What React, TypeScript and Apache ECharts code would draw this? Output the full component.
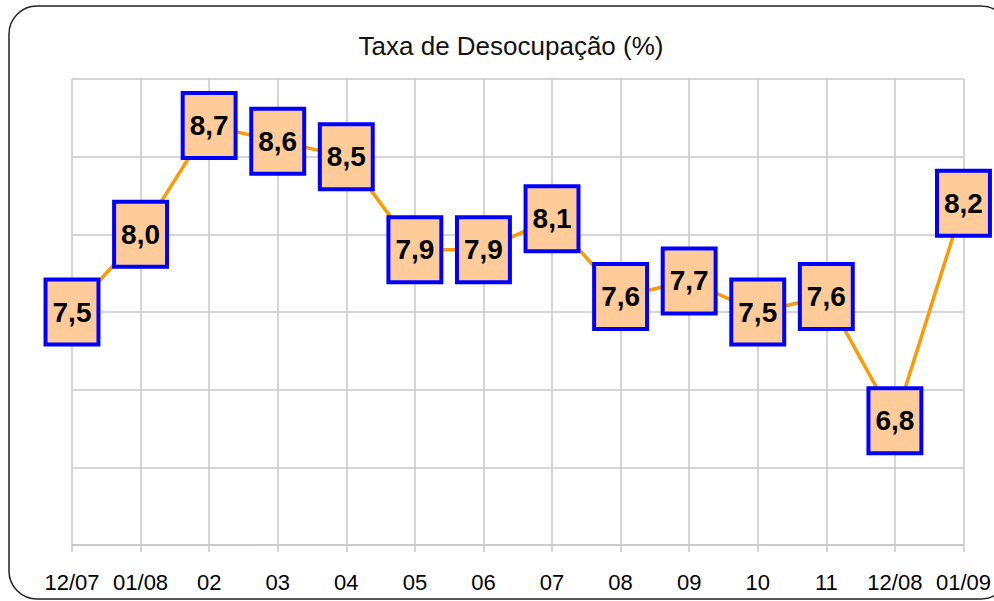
import React, { useEffect, useRef } from "react";
import * as echarts from "echarts";

const categories = ["12/07", "01/08", "02", "03", "04", "05", "06", "07", "08", "09", "10", "11", "12/08", "01/09"];
const values = [7.5, 8.0, 8.7, 8.6, 8.5, 7.9, 7.9, 8.1, 7.6, 7.7, 7.5, 7.6, 6.8, 8.2];
const yMin = 6;
const yMax = 9;
const yInterval = 0.5;
const titleText = "Taxa de Desocupação (%)";

export default function App() {
  const ref = useRef<HTMLDivElement>(null);
  useEffect(() => {
    document.body.style.margin = "0";
    const chart = echarts.init(ref.current!, undefined, { renderer: "svg" });
    chart.setOption({
      animation: false,
      backgroundColor: "#ffffff",
      title: {
        text: titleText,
        left: 506,
        top: 28,
        textAlign: "center",
        textStyle: { fontFamily: "'Liberation Sans', Arial, sans-serif", fontSize: 26, fontWeight: "normal", color: "#111" },
      },
      graphic: [
        {
          type: "rect",
          shape: { x: 9, y: 6, width: 1000, height: 593, r: 28 },
          style: { fill: "none", stroke: "#222", lineWidth: 1.5 },
          z: 100,
        },
      ],
      grid: { left: 72, right: 26, top: 79, bottom: 56, containLabel: false },
      xAxis: {
        type: "category",
        data: categories,
        boundaryGap: false,
        axisLine: { show: true, lineStyle: { color: "#c8c8c8", width: 1.5 } },
        axisTick: { show: true, length: 7, lineStyle: { color: "#c8c8c8", width: 1.5 } },
        axisLabel: {
          margin: 26,
          interval: 0,
          color: "#000",
          fontSize: 22,
          fontFamily: "'Liberation Sans', Arial, sans-serif",
        },
        splitLine: { show: true, lineStyle: { color: "#c8c8c8", width: 1.5 } },
      },
      yAxis: {
        type: "value",
        min: yMin,
        max: yMax,
        interval: yInterval,
        axisLine: { show: false },
        axisTick: { show: false },
        axisLabel: { show: false },
        splitLine: { show: true, lineStyle: { color: "#c8c8c8", width: 1.5 } },
      },
      series: [
        {
          type: "line",
          data: values,
          symbol: "circle",
          symbolSize: 1,
          itemStyle: { color: "#FF9900" },
          lineStyle: { color: "#FF9900", width: 3.5 },
          label: {
            show: true,
            position: "inside",
            formatter: (p: any) => Number(p.value).toFixed(1).replace(".", ","),
            color: "#000",
            fontWeight: "bold",
            fontSize: 28,
            fontFamily: "'Liberation Sans', Arial, sans-serif",
            backgroundColor: "#FFCC99",
            borderColor: "#0000FF",
            borderWidth: 4,
            lineHeight: 61,
            padding: [0, 5],
          },
          z: 5,
        },
      ],
    });
    return () => chart.dispose();
  }, []);
  return <div ref={ref} style={{ width: 994, height: 601 }} />;
}
